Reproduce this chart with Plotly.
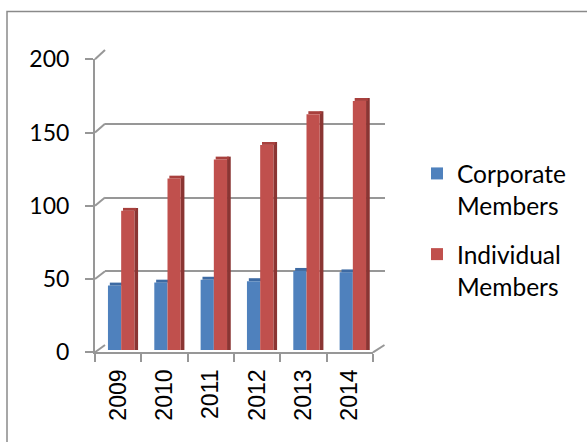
import plotly.graph_objects as go

years = ["2009", "2010", "2011", "2012", "2013", "2014"]
corporate = [44, 46, 48, 47, 54, 53]
individual = [95, 117, 130, 140, 161, 170]
y_ticks = [0, 50, 100, 150, 200]
series_names = ["Corporate<br>Members", "Individual<br>Members"]

W, H = 587, 442
BLUE, BLUE_TOP = "#4F81BD", "#3D6AA3"
RED, RED_TOP, RED_SIDE = "#C0504D", "#A8403D", "#8A3533"
GRID = "#979797"


def fx(p):
    return p / W


def fy(p):
    return 1 - p / H


# pixel geometry of the three planes (front axes, bar plane, back wall)
FRONT = dict(x0=95, x1=373, y0=352.3, y1=59.3)
BARS = dict(x0=98, x1=376, y0=350.0, y1=57.0)
BACK = dict(x0=105, x1=384.5, y0=345.0, y1=50.0)

BW = 0.285   # bar width (category units)
SIDE = 0.08  # depth face width
DEPTH = 2.0  # top face height in value units

fig = go.Figure()

# back wall (gridlines only) - subplot x/y
fig.add_trace(go.Bar(x=years, y=individual, marker=dict(color="rgba(0,0,0,0)", line_width=0),
                     opacity=0, showlegend=False, hoverinfo="skip", xaxis="x", yaxis="y"))

# bars - subplot x2/y2
fig.add_trace(go.Bar(x=years, y=corporate, name=series_names[0], marker_color=BLUE,
                     marker_line_width=0, width=BW, offset=-BW, xaxis="x2", yaxis="y2",
                     legendgroup="a"))
fig.add_trace(go.Bar(x=years, y=[DEPTH] * len(years), base=corporate, marker_color=BLUE_TOP,
                     marker_line_width=0, width=BW, offset=-BW + 0.04, xaxis="x2", yaxis="y2",
                     showlegend=False, hoverinfo="skip"))
fig.add_trace(go.Bar(x=years, y=[v + DEPTH for v in individual], marker_color=RED_SIDE,
                     marker_line_width=0, width=SIDE, offset=BW, xaxis="x2", yaxis="y2",
                     showlegend=False, hoverinfo="skip"))
fig.add_trace(go.Bar(x=years, y=[DEPTH] * len(years), base=individual, marker_color=RED_TOP,
                     marker_line_width=0, width=BW, offset=0.04, xaxis="x2", yaxis="y2",
                     showlegend=False, hoverinfo="skip"))
fig.add_trace(go.Bar(x=years, y=individual, name=series_names[1], marker_color=RED,
                     marker_line_width=0, width=BW, offset=0, xaxis="x2", yaxis="y2",
                     legendgroup="b"))

# front axes - subplot x3/y3
fig.add_trace(go.Bar(x=years, y=individual, marker=dict(color="rgba(0,0,0,0)", line_width=0),
                     opacity=0, showlegend=False, hoverinfo="skip", xaxis="x3", yaxis="y3"))

common_x = dict(type="category", range=[-0.5, 5.5], fixedrange=True, automargin=False)
common_y = dict(range=[0, 200], fixedrange=True, zeroline=False, automargin=False)

fig.update_layout(
    width=W, height=H,
    margin=dict(l=0, r=0, t=0, b=0, autoexpand=False),
    paper_bgcolor="white", plot_bgcolor="rgba(0,0,0,0)",
    barmode="overlay",
    font=dict(family="Lato, sans-serif", color="black"),
    xaxis=dict(**common_x, domain=[fx(BACK["x0"]), fx(BACK["x1"])], anchor="y",
               showticklabels=False, ticks="", showgrid=False, showline=False),
    yaxis=dict(**common_y, domain=[fy(BACK["y0"]), fy(BACK["y1"])], anchor="x",
               tickvals=y_ticks, showticklabels=False, ticks="", showgrid=True,
               gridcolor=GRID, gridwidth=2, showline=False),
    xaxis2=dict(**common_x, domain=[fx(BARS["x0"]), fx(BARS["x1"])], anchor="y2",
                showticklabels=False, ticks="", showgrid=False, showline=False),
    yaxis2=dict(**common_y, domain=[fy(BARS["y0"]), fy(BARS["y1"])], anchor="x2",
                showticklabels=False, ticks="", showgrid=False, showline=False),
    xaxis3=dict(**common_x, domain=[fx(FRONT["x0"]), fx(FRONT["x1"])], anchor="y3",
                showgrid=False, showline=True, linecolor=GRID, linewidth=2,
                ticks="outside", tickson="boundaries", ticklen=8, tickcolor=GRID, tickwidth=2,
                tickangle=-90, ticklabelstandoff=6,
                tickfont=dict(family="Liberation Sans, Arial, sans-serif", size=23, color="black")),
    yaxis3=dict(**common_y, domain=[fy(FRONT["y0"]), fy(FRONT["y1"])], anchor="x3",
                tickvals=y_ticks, showgrid=False, showline=True, linecolor=GRID, linewidth=2,
                ticks="outside", ticklen=8, tickcolor=GRID, tickwidth=2, ticklabelstandoff=11,
                tickfont=dict(family="Lato, sans-serif", size=23, color="black")),
    legend=dict(x=fx(417), xanchor="left", y=fy(151), yanchor="top",
                font=dict(family="Lato, sans-serif", size=24.5, color="black"),
                traceorder="grouped", tracegroupgap=14, valign="top",
                bgcolor="rgba(0,0,0,0)", itemclick=False, itemdoubleclick=False),
)

shapes = []
# outer chart border (extends past the right/bottom edges)
shapes.append(dict(type="rect", xref="paper", yref="paper", x0=fx(7), x1=fx(W + 20),
                   y0=fy(H + 20), y1=fy(11.5), line=dict(color="#8a8a8a", width=1.5),
                   fillcolor="rgba(0,0,0,0)", layer="below"))


def front_y(v):
    return FRONT["y0"] + (FRONT["y1"] - FRONT["y0"]) * v / 200


def back_y(v):
    return BACK["y0"] + (BACK["y1"] - BACK["y0"]) * v / 200


# side-wall diagonals joining front ticks to back-wall gridlines
for v in y_ticks:
    shapes.append(dict(type="line", xref="paper", yref="paper",
                       x0=fx(FRONT["x0"]), y0=fy(front_y(v)), x1=fx(BACK["x0"]), y1=fy(back_y(v)),
                       line=dict(color=GRID, width=2), layer="below"))
# floor right edge
shapes.append(dict(type="line", xref="paper", yref="paper",
                   x0=fx(FRONT["x1"]), y0=fy(front_y(0)), x1=fx(BACK["x1"]), y1=fy(back_y(0)),
                   line=dict(color=GRID, width=2), layer="below"))
fig.update_layout(shapes=shapes)

fig.write_html("out.html", config={"displayModeBar": False},
               post_script="document.body.style.margin='0';")
